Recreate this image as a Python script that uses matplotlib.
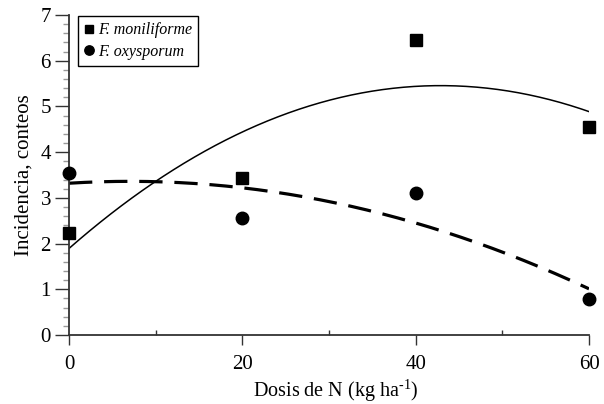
import numpy as np
import matplotlib
matplotlib.use("Agg")
import matplotlib.pyplot as plt
from matplotlib.ticker import MultipleLocator

plt.rcParams['font.family'] = ['Liberation Serif', 'DejaVu Serif']
plt.rcParams['mathtext.fontset'] = 'custom'
plt.rcParams['mathtext.rm'] = 'Liberation Serif'

dosis = [0, 20, 40, 60]
moniliforme = [2.23, 3.43, 6.45, 4.55]
oxysporum = [3.54, 2.56, 3.11, 0.79]
xticks = [0, 20, 40, 60]
yticks = [0, 1, 2, 3, 4, 5, 6, 7]

fig = plt.figure(figsize=(6.04, 4.04), dpi=100)
ax = fig.add_axes([69/604, (404-335)/404, 520/604, 320/404])

xs = np.linspace(0, 60, 200)
cm = np.polyfit(dosis, moniliforme, 2)
co = np.polyfit(dosis, oxysporum, 2)
ax.plot(xs, np.polyval(cm, xs), color='black', lw=1.1, zorder=2)
ax.plot(xs, np.polyval(co, xs), color='black', lw=2.3, dashes=(7.3, 3.7), zorder=2)

ax.plot(dosis, moniliforme, ls='none', marker='s', ms=8.3, color='black',
        label='F. moniliforme', clip_on=False, zorder=3)
ax.plot(dosis, oxysporum, ls='none', marker='o', ms=9, color='black',
        label='F. oxysporum', clip_on=False, zorder=3)

ax.set_xlim(0, 60)
ax.set_ylim(0, 7)
ax.spines['top'].set_visible(False)
ax.spines['right'].set_visible(False)
for s in ['left', 'bottom']:
    ax.spines[s].set_linewidth(1.3)
    ax.spines[s].set_color('#333333')

ax.set_xticks(xticks)
ax.set_yticks(yticks)
ax.xaxis.set_minor_locator(MultipleLocator(10))
ax.yaxis.set_minor_locator(MultipleLocator(0.2))
ax.tick_params(axis='x', which='major', direction='out', length=7.5, width=1.0,
               color='#333333', labelsize=15, pad=7)
ax.tick_params(axis='x', which='minor', direction='in', length=3.5, width=1.0,
               color='#333333')
ax.tick_params(axis='y', which='major', direction='out', length=10, width=1.0,
               color='#333333', labelsize=15, pad=3)
ax.tick_params(axis='y', which='minor', direction='out', length=4, width=1.0,
               color='#999999')

ax.set_xlabel('Dosis de N (kg ha$^{\\text{-1}}$)', fontsize=14.5)
ax.xaxis.set_label_coords(0.513, -0.133)
ax.set_ylabel('Incidencia, conteos', fontsize=15, labelpad=5)

leg = ax.legend(loc='upper left', bbox_to_anchor=(0.017, 0.997), borderaxespad=0,
                fancybox=False, edgecolor='black', framealpha=1,
                prop={'family': 'Liberation Serif', 'style': 'italic', 'size': 11.5},
                handlelength=0.6, handletextpad=0.25, borderpad=0.4,
                labelspacing=0.35, markerscale=0.75)
leg.get_frame().set_linewidth(1.0)

fig.savefig('out.png', dpi=100)
